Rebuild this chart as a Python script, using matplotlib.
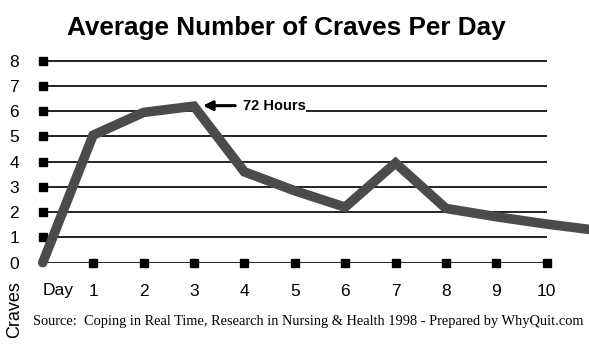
import matplotlib
matplotlib.use("Agg")
import matplotlib.pyplot as plt
from matplotlib.patches import Rectangle

# ---- data ----
days = [0, 1, 2, 3, 4, 5, 6, 7, 8, 9, 10, 11]
craves = [0, 5.05, 5.95, 6.2, 3.6, 2.85, 2.2, 3.95, 2.15, 1.82, 1.53, 1.28]
y_ticks = [0, 1, 2, 3, 4, 5, 6, 7, 8]
x_ticks = [1, 2, 3, 4, 5, 6, 7, 8, 9, 10]
title = "Average Number of Craves Per Day"
source = "Source:  Coping in Real Time, Research in Nursing & Health 1998 - Prepared by WhyQuit.com"
peak_day = 3
peak_label = "72 Hours"

W, H = 589, 348
fig = plt.figure(figsize=(W / 100, H / 100), dpi=100)
fig.patch.set_facecolor("white")

# geometry (pixels)
x0_px, px_per_day = 42.7, 50.4
y0_px, px_per_unit = 262.7, 25.25
ytop = 8.35
left = x0_px / W
bottom = (H - y0_px) / H
xmax = (W - x0_px) / px_per_day
ax = fig.add_axes([left, bottom, 1 - left, ytop * px_per_unit / H])
ax.set_xlim(0, xmax)
ax.set_ylim(0, ytop)
for s in ax.spines.values():
    s.set_visible(False)

sans = "Liberation Sans"

# grid lines
ax.hlines(y_ticks, 0, x_ticks[-1], colors="#111111", linewidth=1.3, zorder=1)

# square markers
ax.plot([0] * (len(y_ticks) - 1), y_ticks[1:], linestyle="none", marker="s",
        markersize=5.4, color="black", zorder=2, clip_on=False)
ax.plot(x_ticks, [0] * len(x_ticks), linestyle="none", marker="s",
        markersize=5.4, color="black", zorder=2, clip_on=False)

# white patch behind annotation
peak_val = craves[days.index(peak_day)]
ax.add_patch(Rectangle((peak_day + 0.17, peak_val - 0.4), 2.05, 0.75,
                       facecolor="white", edgecolor="none", zorder=1.5))

# data line
ax.plot(days, craves, color="#4b4b4b", linewidth=6.9, solid_capstyle="round",
        solid_joinstyle="miter", zorder=3, clip_on=False)

# annotation
ax.annotate("", xy=(peak_day + 0.18, peak_val + 0.02),
            xytext=(peak_day + 0.82, peak_val + 0.02),
            arrowprops=dict(arrowstyle="-|>", color="black", lw=2.2,
                            mutation_scale=14, shrinkA=0, shrinkB=0),
            zorder=4)
ax.text(peak_day + 0.97, peak_val + 0.02, peak_label, fontsize=10.5,
        fontweight="bold", family=sans, ha="left", va="center", zorder=4)

# ticks
ax.set_yticks(y_ticks)
ax.set_yticklabels([str(v) for v in y_ticks], fontsize=12.5, family=sans)
ax.set_xticks(x_ticks)
ax.set_xticklabels([str(v) for v in x_ticks], fontsize=12.5, family=sans)
ax.tick_params(axis="y", length=0, pad=17)
ax.tick_params(axis="x", length=0, pad=15)

# texts
fig.text(58 / W, 1 - 291 / H, "Day", fontsize=12.5, family=sans,
         ha="center", va="center")
fig.text(15 / W, 1 - 310 / H, "Craves", fontsize=13, family=sans,
         rotation=90, ha="center", va="center")
fig.text(286.5 / W, 1 - 28 / H, title, fontsize=18.8, fontweight="bold",
         family=sans, ha="center", va="center")
fig.text(308.5 / W, 1 - 322 / H, source, fontsize=10.4, family="Liberation Serif",
         ha="center", va="center")

fig.savefig("out.png", dpi=100, facecolor="white")
